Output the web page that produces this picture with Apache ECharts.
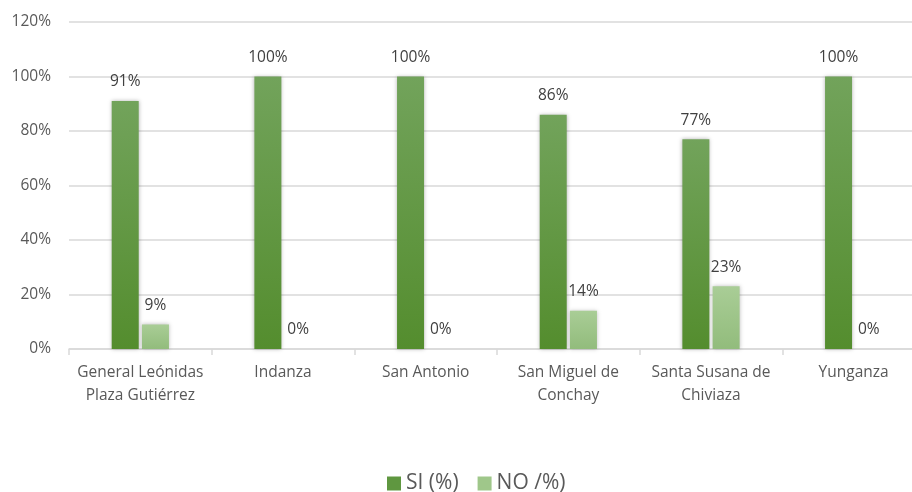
<!DOCTYPE html>
<html>
<head>
<meta charset="utf-8">
<script src="https://cdn.jsdelivr.net/npm/echarts@6/dist/echarts.min.js"></script>
<style>
  html, body { margin: 0; padding: 0; background: #fff; }
  #chart { width: 912px; height: 492px; }
</style>
</head>
<body>
<div id="chart"></div>
<script>
// Parroquias and answer shares (percent)
const categories = [
  'General Leónidas\nPlaza Gutiérrez',
  'Indanza',
  'San Antonio',
  'San Miguel de\nConchay',
  'Santa Susana de\nChiviaza',
  'Yunganza'
];
const siValues = [91, 100, 100, 86, 77, 100];
const noValues = [9, 0, 0, 14, 23, 0];
const seriesNames = ['SI (%)', 'NO /%)'];

const FONT = '"Open Sans", "DejaVu Sans", sans-serif';

function grad(top, bottom) {
  return new echarts.graphic.LinearGradient(0, 0, 0, 1, [
    { offset: 0, color: top },
    { offset: 1, color: bottom }
  ]);
}

const labelStyle = {
  show: true,
  position: 'top',
  distance: 11,
  color: '#404040',
  fontFamily: FONT,
  fontSize: 15.5,
  formatter: p => p.value + '%'
};

const chart = echarts.init(document.getElementById('chart'), null, { renderer: 'canvas' });
chart.setOption({
  animation: false,
  backgroundColor: '#ffffff',
  grid: {
    left: 69, top: 22, width: 856, height: 327,
    containLabel: false,
    outerBoundsMode: 'none'
  },
  legend: {
    top: 468,
    left: 382,
    itemWidth: 14,
    itemHeight: 14,
    itemGap: 19,
    icon: 'rect',
    textStyle: { color: '#595959', fontFamily: FONT, fontSize: 21 },
    data: [
      { name: seriesNames[0], itemStyle: { color: '#5f9740' } },
      { name: seriesNames[1], itemStyle: { color: '#9fc78a' } }
    ]
  },
  xAxis: {
    type: 'category',
    data: categories,
    axisLine: { lineStyle: { color: '#d9d9d9', width: 1.5 } },
    axisTick: { show: true, length: 6, lineStyle: { color: '#d9d9d9', width: 1.5 } },
    axisLabel: {
      color: '#595959',
      fontFamily: FONT,
      fontSize: 15.5,
      lineHeight: 23,
      margin: 12,
      interval: 0
    }
  },
  yAxis: {
    type: 'value',
    min: 0,
    max: 120,
    interval: 20,
    axisLine: { show: false },
    axisTick: { show: false },
    splitLine: { lineStyle: { color: '#d9d9d9', width: 1.5 } },
    axisLabel: {
      color: '#595959',
      fontFamily: FONT,
      fontSize: 15.5,
      margin: 18,
      formatter: v => v + '%'
    }
  },
  series: [
    {
      name: seriesNames[0],
      type: 'bar',
      data: siValues,
      barWidth: 27,
      barGap: '12%',
      itemStyle: {
        color: grad('#72a35b', '#548d2e'),
        shadowBlur: 4,
        shadowColor: 'rgba(0,0,0,0.3)',
        shadowOffsetX: 0,
        shadowOffsetY: 0
      },
      label: labelStyle
    },
    {
      name: seriesNames[1],
      type: 'bar',
      data: noValues,
      barWidth: 27,
      itemStyle: {
        color: grad('#a9cd96', '#92bc7c'),
        shadowBlur: 4,
        shadowColor: 'rgba(0,0,0,0.25)',
        shadowOffsetX: 0,
        shadowOffsetY: 0
      },
      label: labelStyle
    }
  ]
});
</script>
</body>
</html>
